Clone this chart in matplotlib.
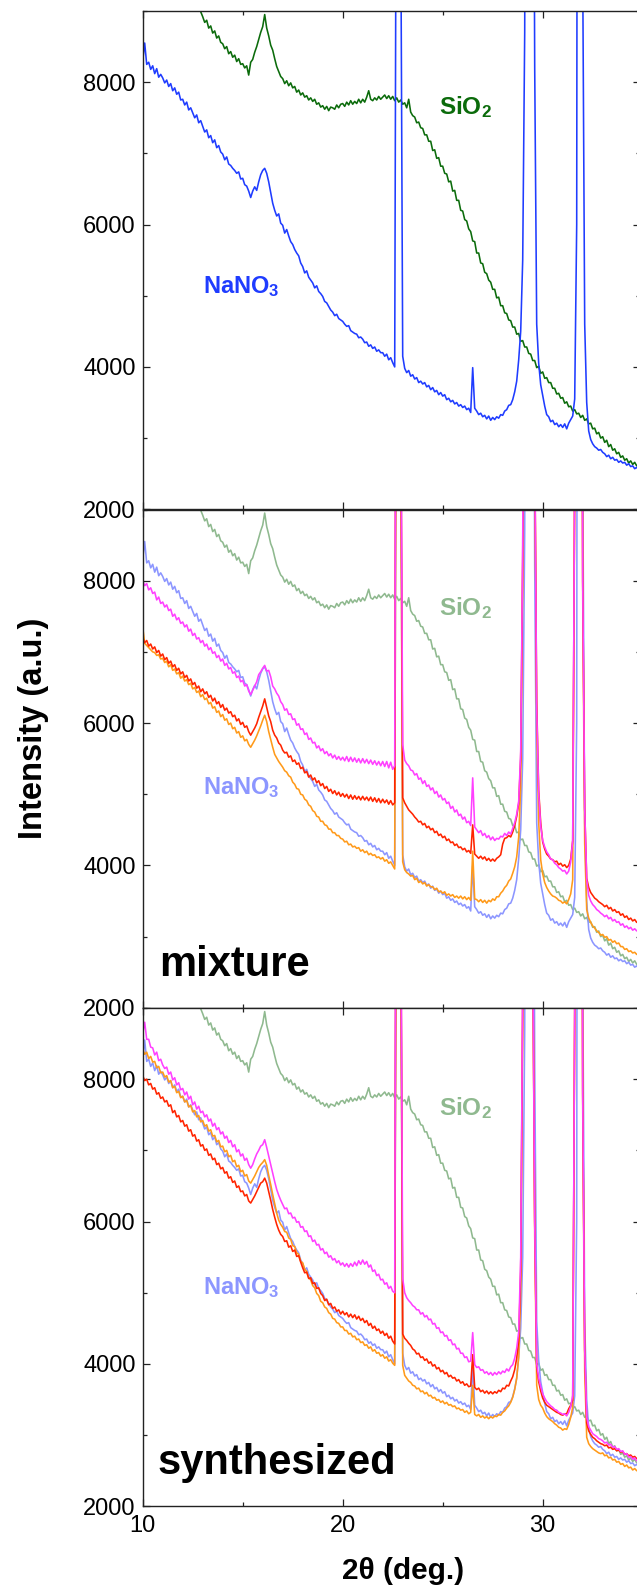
import matplotlib
matplotlib.use("Agg")
import matplotlib.pyplot as plt
import numpy as np

plt.rcParams["font.family"] = ["Liberation Sans", "DejaVu Sans"]
plt.rcParams["mathtext.fontset"] = "custom"
plt.rcParams["mathtext.rm"] = "Liberation Sans:bold"
plt.rcParams["mathtext.it"] = "Liberation Sans:bold"
plt.rcParams["mathtext.bf"] = "Liberation Sans:bold"

# scan grid, 10.0 ... 34.9 deg in 0.1 deg steps
two_theta = np.arange(100, 350) / 10.0

# intensities, one row per degree
sio2 = [
    10600, 10550, 10480, 10420, 10360, 10300, 10240, 10180, 10120, 10060,
    10000, 9950, 9900, 9850, 9800, 9750, 9700, 9650, 9600, 9550,
    9500, 9450, 9400, 9350, 9300, 9240, 9180, 9120, 9060, 8990,
    8920, 8840, 8870, 8760, 8790, 8690, 8720, 8620, 8650, 8560,
    8540, 8470, 8500, 8400, 8430, 8350, 8380, 8290, 8330, 8250,
    8260, 8200, 8230, 8100, 8280, 8320, 8420, 8500, 8600, 8700,
    8780, 8950, 8760, 8650, 8520, 8450, 8330, 8220, 8150, 8080,
    8050, 7980, 8020, 7950, 7990, 7920, 7940, 7860, 7890, 7820,
    7850, 7790, 7810, 7750, 7780, 7730, 7760, 7690, 7710, 7650,
    7670, 7620, 7660, 7600, 7650, 7640, 7620, 7680, 7640, 7690,
    7700, 7660, 7720, 7680, 7740, 7690, 7730, 7700, 7760, 7710,
    7760, 7720, 7790, 7880, 7760, 7740, 7780, 7750, 7800, 7760,
    7790, 7820, 7770, 7810, 7760, 7800, 7740, 7780, 7720, 7750,
    7690, 7710, 7640, 7760, 7580, 7530, 7510, 7430, 7440, 7360,
    7350, 7260, 7260, 7170, 7170, 7040, 7050, 6930, 6940, 6820,
    6820, 6720, 6710, 6600, 6610, 6470, 6480, 6340, 6340, 6200,
    6190, 6070, 6050, 5940, 5900, 5770, 5760, 5600, 5600, 5460,
    5450, 5330, 5310, 5220, 5190, 5090, 5090, 4970, 4980, 4860,
    4860, 4760, 4750, 4660, 4650, 4560, 4560, 4460, 4470, 4360,
    4370, 4280, 4280, 4190, 4180, 4090, 4090, 3990, 4010, 3910,
    3930, 3840, 3850, 3780, 3780, 3700, 3700, 3620, 3630, 3560,
    3570, 3490, 3510, 3440, 3450, 3380, 3400, 3340, 3350, 3290,
    3320, 3250, 3270, 3200, 3210, 3130, 3140, 3060, 3080, 3000,
    3020, 2940, 2970, 2880, 2910, 2830, 2850, 2780, 2800, 2730,
    2750, 2690, 2710, 2650, 2680, 2630, 2660, 2610, 2640, 2590,
]

nano3 = [
    8300, 8550, 8250, 8280, 8180, 8230, 8120, 8190, 8070, 8110,
    8060, 7990, 8030, 7940, 7980, 7880, 7920, 7830, 7860, 7750,
    7760, 7680, 7720, 7610, 7640, 7570, 7500, 7540, 7430, 7460,
    7380, 7300, 7330, 7220, 7250, 7150, 7190, 7080, 7110, 7020,
    6990, 6910, 6950, 6850, 6830, 6790, 6760, 6720, 6740, 6640,
    6650, 6560, 6540, 6470, 6380, 6470, 6530, 6480, 6600, 6700,
    6760, 6790, 6720, 6600, 6450, 6300, 6200, 6120, 6150, 6020,
    5990, 5880, 5930, 5840, 5760, 5720, 5650, 5600, 5560, 5460,
    5410, 5320, 5350, 5260, 5220, 5180, 5110, 5140, 5060, 5030,
    4990, 4920, 4900, 4850, 4800, 4770, 4720, 4740, 4680, 4660,
    4640, 4600, 4570, 4580, 4510, 4490, 4470, 4460, 4410, 4420,
    4390, 4340, 4350, 4290, 4310, 4260, 4280, 4220, 4240, 4200,
    4200, 4150, 4180, 4100, 4130, 4060, 4000, 14000, 60000, 10500,
    4150, 3980, 3920, 3950, 3870, 3890, 3830, 3850, 3780, 3800,
    3760, 3780, 3720, 3740, 3680, 3710, 3650, 3670, 3610, 3640,
    3590, 3610, 3540, 3560, 3510, 3530, 3480, 3500, 3450, 3470,
    3430, 3450, 3400, 3420, 3360, 3990, 3420, 3380, 3330, 3350,
    3300, 3320, 3270, 3310, 3250, 3290, 3260, 3300, 3280, 3330,
    3320, 3380, 3400, 3460, 3470, 3540, 3650, 3800, 4100, 4500,
    5500, 8700, 20000, 60000, 40000, 16000, 8200, 4600, 4050, 3750,
    3600, 3450, 3330, 3300, 3230, 3250, 3190, 3210, 3160, 3190,
    3150, 3200, 3130, 3210, 3260, 3310, 3550, 6000, 30000, 40000,
    9600, 4600, 3500, 3100, 2980, 2920, 2880, 2860, 2830, 2840,
    2800, 2780, 2740, 2760, 2710, 2730, 2690, 2700, 2660, 2680,
    2650, 2660, 2620, 2640, 2600, 2610, 2570, 2590, 2550, 2560,
]

mix_magenta = [
    8000, 7930, 7960, 7870, 7900, 7820, 7840, 7730, 7770, 7680,
    7700, 7630, 7660, 7580, 7600, 7500, 7530, 7450, 7480, 7400,
    7420, 7350, 7380, 7290, 7320, 7230, 7260, 7180, 7200, 7130,
    7160, 7080, 7110, 7030, 7060, 6980, 7000, 6920, 6950, 6870,
    6900, 6810, 6840, 6760, 6780, 6700, 6720, 6640, 6660, 6580,
    6600, 6520, 6540, 6450, 6400, 6460, 6520, 6580, 6680, 6720,
    6770, 6810, 6730, 6740, 6650, 6520, 6480, 6420, 6380, 6300,
    6260, 6180, 6200, 6120, 6130, 6050, 6060, 5970, 5990, 5910,
    5920, 5840, 5860, 5770, 5790, 5720, 5730, 5650, 5680, 5610,
    5640, 5570, 5600, 5540, 5570, 5510, 5550, 5490, 5530, 5480,
    5520, 5470, 5530, 5460, 5520, 5460, 5510, 5450, 5500, 5440,
    5500, 5440, 5490, 5430, 5480, 5420, 5470, 5410, 5460, 5400,
    5460, 5390, 5460, 5370, 5450, 5350, 5400, 16000, 60000, 11000,
    5700, 5480, 5430, 5400, 5340, 5330, 5270, 5290, 5210, 5230,
    5150, 5190, 5110, 5130, 5060, 5090, 5010, 5040, 4960, 4990,
    4920, 4940, 4870, 4890, 4800, 4830, 4750, 4780, 4700, 4720,
    4650, 4680, 4600, 4620, 4560, 5230, 4540, 4500, 4460, 4490,
    4420, 4450, 4390, 4420, 4360, 4400, 4350, 4380, 4370, 4410,
    4400, 4450, 4420, 4470, 4440, 4520, 4600, 4720, 4900, 5600,
    8500, 16000, 40000, 60000, 40000, 20000, 10000, 6200, 5000, 4550,
    4350, 4260, 4190, 4150, 4090, 4080, 4030, 4010, 3970, 3950,
    3920, 3930, 3880, 3920, 4050, 4350, 9500, 30000, 40000, 20000,
    8000, 4800, 3800, 3580, 3500, 3450, 3420, 3380, 3360, 3330,
    3310, 3280, 3300, 3250, 3270, 3220, 3240, 3200, 3210, 3160,
    3180, 3130, 3150, 3110, 3130, 3090, 3110, 3080, 3100, 3070,
]

mix_red = [
    7200, 7130, 7160, 7080, 7110, 7040, 7070, 6990, 7020, 6940,
    6970, 6890, 6920, 6840, 6870, 6790, 6820, 6740, 6770, 6690,
    6720, 6640, 6670, 6590, 6620, 6540, 6570, 6490, 6520, 6440,
    6480, 6410, 6440, 6360, 6390, 6310, 6350, 6270, 6300, 6220,
    6260, 6180, 6210, 6140, 6160, 6090, 6110, 6030, 6060, 5980,
    6010, 5940, 5960, 5880, 5830, 5880, 5930, 5990, 6080, 6160,
    6240, 6340, 6220, 6100, 6020, 5900, 5830, 5790, 5720, 5690,
    5620, 5580, 5590, 5520, 5540, 5460, 5480, 5420, 5440, 5360,
    5380, 5300, 5320, 5240, 5270, 5200, 5230, 5160, 5190, 5120,
    5150, 5080, 5110, 5040, 5070, 5010, 5050, 4990, 5030, 4970,
    5010, 4960, 5000, 4940, 4990, 4930, 4980, 4930, 4970, 4920,
    4970, 4920, 4960, 4910, 4960, 4900, 4950, 4890, 4940, 4880,
    4930, 4880, 4920, 4860, 4910, 4850, 4880, 16000, 60000, 11000,
    4950, 4880, 4830, 4780, 4750, 4720, 4680, 4650, 4610, 4620,
    4570, 4590, 4530, 4550, 4500, 4520, 4460, 4480, 4420, 4440,
    4390, 4410, 4350, 4370, 4320, 4330, 4280, 4300, 4250, 4260,
    4220, 4240, 4190, 4210, 4170, 4570, 4160, 4130, 4100, 4130,
    4090, 4120, 4070, 4100, 4060, 4090, 4060, 4100, 4120, 4150,
    4300, 4380, 4390, 4420, 4400, 4470, 4560, 4690, 4870, 5500,
    8300, 16000, 40000, 60000, 40000, 20000, 10000, 6300, 5050, 4600,
    4330, 4230, 4160, 4130, 4090, 4080, 4050, 4060, 4010, 4030,
    3990, 4010, 3970, 4000, 4090, 4350, 9500, 30000, 40000, 20000,
    8000, 4800, 3820, 3690, 3620, 3580, 3540, 3520, 3490, 3470,
    3450, 3420, 3440, 3390, 3410, 3360, 3380, 3340, 3350, 3300,
    3320, 3270, 3290, 3240, 3260, 3220, 3240, 3200, 3220, 3190,
]

mix_orange = [
    7350, 7120, 7090, 7060, 7030, 7000, 6990, 6950, 6960, 6900,
    6910, 6850, 6870, 6790, 6820, 6740, 6760, 6690, 6710, 6630,
    6660, 6590, 6610, 6540, 6560, 6480, 6500, 6430, 6450, 6370,
    6400, 6330, 6350, 6270, 6290, 6210, 6230, 6150, 6170, 6090,
    6120, 6040, 6060, 5980, 6000, 5920, 5940, 5860, 5880, 5800,
    5820, 5750, 5770, 5700, 5660, 5710, 5760, 5820, 5890, 5960,
    6040, 6110, 6020, 5880, 5770, 5660, 5560, 5510, 5460, 5420,
    5380, 5330, 5310, 5260, 5240, 5170, 5140, 5080, 5070, 5000,
    4990, 4930, 4910, 4850, 4830, 4770, 4750, 4690, 4680, 4620,
    4620, 4570, 4560, 4510, 4510, 4460, 4460, 4420, 4420, 4380,
    4370, 4330, 4340, 4290, 4300, 4260, 4270, 4240, 4250, 4200,
    4220, 4180, 4200, 4150, 4170, 4140, 4150, 4110, 4120, 4090,
    4110, 4060, 4080, 4030, 4050, 4000, 3950, 14000, 60000, 10000,
    4050, 3940, 3900, 3880, 3850, 3860, 3800, 3820, 3760, 3780,
    3740, 3760, 3710, 3730, 3700, 3700, 3660, 3680, 3630, 3640,
    3610, 3630, 3580, 3600, 3570, 3590, 3550, 3570, 3540, 3570,
    3530, 3560, 3520, 3550, 3510, 4200, 3530, 3520, 3490, 3520,
    3480, 3510, 3470, 3510, 3490, 3530, 3510, 3560, 3560, 3610,
    3640, 3690, 3720, 3780, 3810, 3890, 3980, 4120, 4400, 5100,
    8000, 16000, 40000, 60000, 40000, 20000, 10000, 5900, 4600, 4080,
    3880, 3760, 3690, 3640, 3600, 3570, 3560, 3540, 3510, 3500,
    3470, 3490, 3460, 3520, 3600, 3800, 9300, 30000, 40000, 20000,
    7800, 4300, 3380, 3260, 3200, 3150, 3120, 3080, 3060, 3020,
    3030, 2990, 3000, 2950, 2960, 2920, 2940, 2900, 2910, 2860,
    2860, 2820, 2830, 2790, 2800, 2770, 2780, 2750, 2760, 2730,
]

syn_magenta = [
    8640, 8800, 8560, 8560, 8450, 8440, 8340, 8380, 8260, 8280,
    8200, 8150, 8170, 8070, 8100, 7990, 8020, 7920, 7950, 7850,
    7870, 7780, 7820, 7720, 7760, 7640, 7680, 7580, 7620, 7530,
    7550, 7470, 7500, 7410, 7440, 7340, 7380, 7290, 7320, 7230,
    7260, 7170, 7200, 7110, 7140, 7050, 7080, 6980, 7010, 6920,
    6950, 6860, 6890, 6800, 6750, 6800, 6880, 6950, 7000, 7060,
    7080, 7150, 7040, 6920, 6800, 6680, 6560, 6450, 6370, 6300,
    6240, 6180, 6190, 6110, 6120, 6050, 6060, 5990, 6000, 5920,
    5930, 5860, 5870, 5790, 5800, 5720, 5740, 5670, 5680, 5600,
    5620, 5550, 5570, 5500, 5520, 5460, 5480, 5420, 5450, 5390,
    5420, 5370, 5410, 5360, 5410, 5370, 5430, 5380, 5450, 5400,
    5460, 5400, 5440, 5360, 5390, 5300, 5320, 5240, 5260, 5180,
    5190, 5120, 5140, 5060, 5090, 5020, 5000, 16000, 60000, 11000,
    5200, 5000, 4930, 4890, 4860, 4820, 4800, 4760, 4760, 4700,
    4720, 4660, 4680, 4620, 4630, 4560, 4570, 4500, 4510, 4440,
    4450, 4390, 4400, 4330, 4340, 4270, 4280, 4210, 4220, 4150,
    4150, 4090, 4100, 4030, 4040, 4440, 3990, 3950, 3960, 3910,
    3920, 3870, 3890, 3850, 3880, 3840, 3880, 3850, 3890, 3860,
    3900, 3880, 3930, 3900, 3960, 3990, 4080, 4220, 4450, 5500,
    9300, 20000, 50000, 60000, 25000, 10000, 6000, 4000, 3800, 3680,
    3580, 3520, 3470, 3440, 3410, 3390, 3360, 3350, 3320, 3310,
    3290, 3300, 3270, 3320, 3400, 3560, 9000, 30000, 40000, 20000,
    7800, 4200, 3250, 3120, 3070, 3020, 3000, 2980, 2950, 2940,
    2920, 2890, 2900, 2860, 2870, 2830, 2840, 2800, 2810, 2770,
    2780, 2730, 2740, 2690, 2700, 2660, 2680, 2640, 2650, 2620,
]

syn_red = [
    8050, 7980, 8000, 7920, 7940, 7860, 7880, 7790, 7810, 7730,
    7750, 7680, 7700, 7620, 7640, 7530, 7560, 7470, 7490, 7400,
    7420, 7340, 7360, 7270, 7290, 7200, 7220, 7130, 7150, 7060,
    7080, 7000, 7020, 6930, 6950, 6870, 6890, 6800, 6820, 6740,
    6760, 6680, 6700, 6610, 6630, 6550, 6570, 6480, 6500, 6420,
    6430, 6360, 6380, 6290, 6260, 6310, 6360, 6420, 6480, 6540,
    6560, 6610, 6540, 6420, 6300, 6170, 6060, 5960, 5880, 5820,
    5790, 5720, 5730, 5640, 5660, 5580, 5600, 5510, 5520, 5430,
    5350, 5280, 5290, 5200, 5210, 5130, 5140, 5060, 5070, 4990,
    4960, 4890, 4910, 4830, 4850, 4780, 4800, 4740, 4760, 4700,
    4740, 4690, 4720, 4660, 4700, 4650, 4690, 4630, 4670, 4610,
    4640, 4580, 4610, 4540, 4570, 4500, 4530, 4470, 4490, 4430,
    4460, 4400, 4430, 4360, 4390, 4320, 4280, 15000, 60000, 11000,
    4420, 4360, 4330, 4290, 4260, 4210, 4190, 4140, 4150, 4090,
    4100, 4050, 4070, 4010, 4030, 3970, 3990, 3930, 3950, 3890,
    3910, 3860, 3880, 3820, 3840, 3800, 3810, 3760, 3780, 3730,
    3750, 3700, 3720, 3680, 3690, 4130, 3670, 3640, 3660, 3610,
    3630, 3590, 3620, 3580, 3610, 3580, 3610, 3590, 3630, 3610,
    3660, 3650, 3700, 3690, 3760, 3820, 3920, 4080, 4330, 5300,
    9100, 20000, 50000, 60000, 25000, 10000, 6000, 3950, 3750, 3620,
    3520, 3460, 3420, 3400, 3380, 3360, 3340, 3320, 3310, 3290,
    3280, 3300, 3300, 3370, 3420, 3490, 9000, 30000, 40000, 20000,
    7800, 4200, 3170, 3060, 3010, 2970, 2950, 2920, 2900, 2880,
    2870, 2850, 2860, 2820, 2830, 2800, 2810, 2780, 2790, 2760,
    2770, 2730, 2740, 2710, 2720, 2690, 2700, 2670, 2680, 2650,
]

syn_orange = [
    8420, 8350, 8380, 8290, 8320, 8240, 8250, 8160, 8180, 8090,
    8100, 8030, 8050, 7960, 7980, 7880, 7900, 7810, 7830, 7740,
    7760, 7680, 7700, 7610, 7630, 7540, 7560, 7470, 7490, 7400,
    7420, 7340, 7360, 7270, 7290, 7200, 7210, 7120, 7140, 7050,
    7060, 6980, 7000, 6910, 6930, 6840, 6860, 6770, 6790, 6700,
    6720, 6640, 6660, 6570, 6540, 6590, 6640, 6700, 6760, 6800,
    6830, 6870, 6790, 6650, 6520, 6380, 6250, 6120, 6020, 5960,
    5920, 5860, 5850, 5770, 5750, 5660, 5650, 5560, 5540, 5440,
    5420, 5330, 5300, 5210, 5180, 5100, 5070, 4990, 4960, 4880,
    4860, 4800, 4780, 4720, 4700, 4640, 4630, 4580, 4570, 4520,
    4520, 4470, 4470, 4420, 4430, 4380, 4390, 4340, 4350, 4300,
    4310, 4260, 4270, 4220, 4240, 4180, 4200, 4150, 4160, 4110,
    4130, 4080, 4100, 4040, 4060, 4010, 3980, 14000, 60000, 10500,
    3980, 3840, 3800, 3760, 3740, 3700, 3690, 3650, 3660, 3610,
    3620, 3580, 3600, 3550, 3560, 3520, 3530, 3490, 3500, 3460,
    3480, 3440, 3460, 3420, 3430, 3400, 3410, 3370, 3380, 3350,
    3360, 3320, 3340, 3300, 3320, 3700, 3290, 3270, 3290, 3250,
    3270, 3240, 3260, 3230, 3260, 3240, 3270, 3260, 3290, 3280,
    3320, 3340, 3380, 3410, 3460, 3530, 3640, 3800, 4100, 5000,
    8800, 20000, 50000, 60000, 25000, 10000, 5800, 3700, 3500, 3420,
    3380, 3310, 3260, 3230, 3210, 3190, 3160, 3140, 3110, 3100,
    3070, 3090, 3080, 3150, 3250, 3390, 8800, 30000, 40000, 20000,
    7600, 3900, 2970, 2880, 2840, 2810, 2790, 2770, 2750, 2740,
    2750, 2710, 2720, 2680, 2690, 2650, 2660, 2620, 2630, 2590,
    2600, 2560, 2580, 2540, 2550, 2510, 2530, 2500, 2510, 2480,
]

x_major = [10, 20, 30]
x_minor = [15, 25]
y_major = [2000, 4000, 6000, 8000]
y_minor = [3000, 5000, 7000, 9000]

DARK_GREEN, BLUE = "#0b6b0b", "#1f3cff"
PALE_GREEN, PALE_BLUE = "#8fb98f", "#8c96ff"
ORANGE, RED, MAGENTA = "#ff9a1a", "#ff2400", "#ff40ff"
LW = 1.15


def style(ax, show_x):
    ax.set_xlim(10, 34.85)
    ax.set_ylim(2000, 9000)
    ax.set_xticks(x_major)
    ax.set_xticks(x_minor, minor=True)
    ax.set_yticks(y_major)
    ax.set_yticks(y_minor, minor=True)
    ax.tick_params(which="both", direction="in", top=True, right=True,
                   width=0.9, color="#222222", labelsize=17, pad=5)
    ax.tick_params(which="major", length=5)
    ax.tick_params(which="minor", length=3)
    ax.tick_params(axis="x", pad=6, labelbottom=show_x)
    for sp in ax.spines.values():
        sp.set_linewidth(1.0)
        sp.set_color("#222222")


def species_labels(ax, c_si, c_na, y_si, y_na):
    ax.text(24.8, y_si, "SiO$_2$", color=c_si, fontsize=17.5, fontweight="bold",
            ha="left", va="center")
    ax.text(13.0, y_na, "NaNO$_3$", color=c_na, fontsize=17, fontweight="bold",
            ha="left", va="center")


fig = plt.figure(figsize=(6.37, 15.91), dpi=100)
L, W, H = 142.7 / 637, 497.0 / 637, 498.3 / 1591
ax1 = fig.add_axes([L, 1 - 509.3 / 1591, W, H])
ax2 = fig.add_axes([L, 1 - 1007.8 / 1591, W, H])
ax3 = fig.add_axes([L, 1 - 1506.3 / 1591, W, H])

# reference patterns
ax1.plot(two_theta, sio2, color=DARK_GREEN, lw=LW)
ax1.plot(two_theta, nano3, color=BLUE, lw=LW)
species_labels(ax1, DARK_GREEN, BLUE, 7650, 5130)
style(ax1, False)

# mixture
ax2.plot(two_theta, sio2, color=PALE_GREEN, lw=LW)
ax2.plot(two_theta, nano3, color=PALE_BLUE, lw=LW)
ax2.plot(two_theta, mix_orange, color=ORANGE, lw=LW)
ax2.plot(two_theta, mix_red, color=RED, lw=LW)
ax2.plot(two_theta, mix_magenta, color=MAGENTA, lw=LW)
species_labels(ax2, PALE_GREEN, PALE_BLUE, 7620, 5090)
ax2.text(10.8, 2440, "mixture", fontsize=30, fontweight="bold", va="baseline")
style(ax2, False)

# synthesized
ax3.plot(two_theta, sio2, color=PALE_GREEN, lw=LW)
ax3.plot(two_theta, nano3, color=PALE_BLUE, lw=LW)
ax3.plot(two_theta, syn_orange, color=ORANGE, lw=LW)
ax3.plot(two_theta, syn_red, color=RED, lw=LW)
ax3.plot(two_theta, syn_magenta, color=MAGENTA, lw=LW)
species_labels(ax3, PALE_GREEN, PALE_BLUE, 7590, 5070)
ax3.text(10.75, 2450, "synthesized", fontsize=30, fontweight="bold", va="baseline")
style(ax3, True)

fig.text(34 / 637, 1 - 728 / 1591, "Intensity (a.u.)", rotation=90, fontsize=23.5,
         fontweight="bold", ha="center", va="center")
fig.text(403 / 637, 1 - 1571 / 1591, "2θ (deg.)", fontsize=21.5, fontweight="bold",
         ha="center", va="center")

fig.savefig("out.png", dpi=100, facecolor="white")
